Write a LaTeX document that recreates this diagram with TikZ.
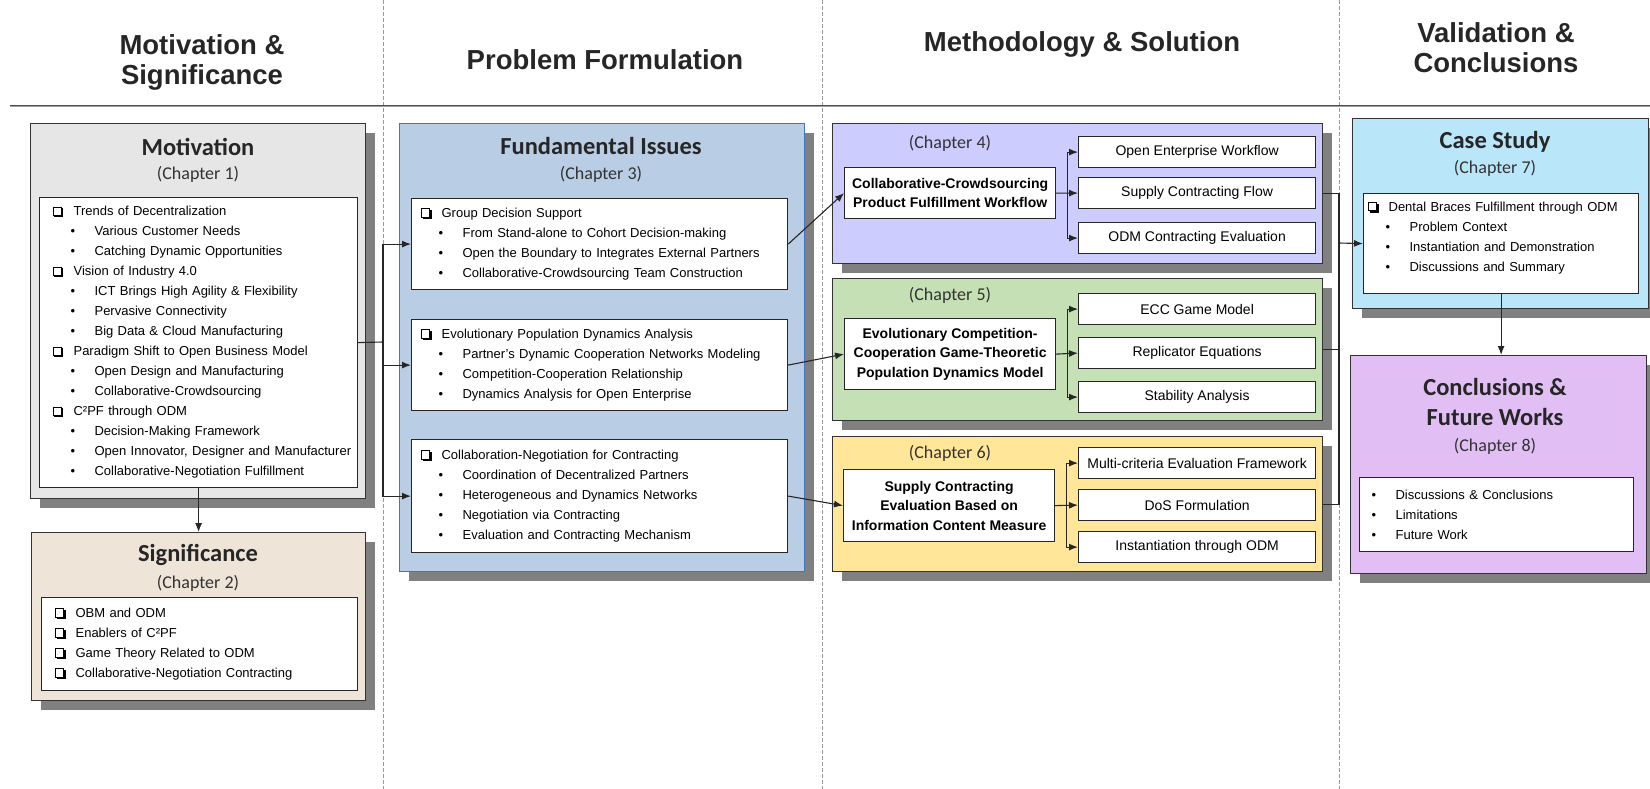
\documentclass[tikz,border=0pt]{standalone}
\usepackage{fontspec}
\setmainfont{Liberation Sans}
\newfontfamily\calfont{Carlito}
\usepackage{tikz}
\usetikzlibrary{arrows.meta}
\usetikzlibrary{shadows}
\usetikzlibrary{calc}

\definecolor{motgray}{RGB}{231,230,230}
\definecolor{sigbeige}{RGB}{238,228,216}
\definecolor{issueblue}{RGB}{185,205,229}
\definecolor{borderblue}{RGB}{68,114,196}
\definecolor{chfourpurple}{RGB}{204,204,255}
\definecolor{chfivegreen}{RGB}{197,224,180}
\definecolor{chsixyellow}{RGB}{255,230,153}
\definecolor{casecyan}{RGB}{186,230,250}
\definecolor{conclilac}{RGB}{225,191,245}
\definecolor{shadowgray}{RGB}{128,128,128}

\newcommand{\chkbox}{\tikz[baseline=-0.5pt]{\draw[line width=0.8pt] (0pt,0pt) rectangle (8.5pt,8.5pt); \draw[line width=2pt] (1.5pt,-1pt) -- (9.5pt,-1pt) -- (9.5pt,7pt);}}
\newcommand{\cb}[1]{\mbox{\makebox[21pt][l]{\chkbox}#1}}
\newcommand{\bt}[2][18pt]{\mbox{\hspace*{#1}\makebox[24pt][l]{\textbullet}#2}}

\begin{document}
\begin{tikzpicture}[x=1pt,y=-1pt,>={Latex[length=9pt,width=7pt]},
    chapter box/.style={rectangle,draw=black!80,line width=1.2pt,anchor=north west,drop shadow={shadow xshift=9pt,shadow yshift=-9pt,fill=shadowgray,opacity=1}},
    head title/.style={font=\bfseries\fontsize{27.5}{30}\selectfont,text=black!85,align=center},
    box title/.style={font=\calfont\bfseries\fontsize{24.5}{30}\selectfont,text=black!85,align=center},
    chap label/.style={font=\calfont\fontsize{18}{22}\selectfont,text=black!80},
    list box/.style={rectangle,draw=black!85,line width=1.2pt,fill=white,anchor=north west,align=left,inner ysep=0pt,font=\fontsize{13}{20}\selectfont},
    method node/.style={rectangle,draw=black!85,line width=1.2pt,fill=white,anchor=north west,align=center,inner xsep=3pt,font=\bfseries\fontsize{14}{19.5}\selectfont,minimum width=211pt},
    sub node/.style={rectangle,draw=black!85,line width=1.2pt,fill=white,anchor=north west,inner xsep=3pt,font=\fontsize{14}{17}\selectfont,minimum width=237pt,minimum height=31pt},
    link/.style={line width=1.1pt,black!85},
    divider/.style={gray!80,line width=0.8pt,dash pattern=on 4pt off 2pt}]
  \useasboundingbox (0,0) rectangle (1650,789);
  \begin{scope}
    % columns and header
    \draw[divider] (383,0) -- (383,789);
    \draw[divider] (822,0) -- (822,789);
    \draw[divider] (1339,0) -- (1339,789);
    \draw[gray!75,line width=2.2pt] (10,106) -- (1650,106);
    \draw[black!70,line width=0.6pt] (10,105) -- (1650,105);
    \node[head title] (headmot) at (202,62) {Motivation \&\\Significance};
    \node[head title] (headprob) at (605,60) {Problem Formulation};
    \node[head title] (headmeth) at (1082,44) {Methodology \& Solution};
    \node[head title] (headval) at (1496,48) {Validation \&\\Conclusions};

    % motivation & significance
    \node[chapter box,fill=motgray,minimum width=335pt,minimum height=375pt] (motiv) at (30,123) {};
    \node[box title] (motivtitle) at (198,147) {Motivation};
    \node[chap label] (motivchap) at (198,174) {(Chapter 1)};
    \node[list box,inner xsep=13pt,text width=292pt,minimum height=290pt] (motlist) at (39,197) {%
      \cb{Trends of Decentralization}\\
      \bt{Various Customer Needs}\\
      \bt{Catching Dynamic Opportunities}\\
      \cb{Vision of Industry 4.0}\\
      \bt{ICT Brings High Agility \& Flexibility}\\
      \bt{Pervasive Connectivity}\\
      \bt{Big Data \& Cloud Manufacturing}\\
      \cb{Paradigm Shift to Open Business Model}\\
      \bt{Open Design and Manufacturing}\\
      \bt{Collaborative-Crowdsourcing}\\
      \cb{C²PF through ODM}\\
      \bt{Decision-Making Framework}\\
      \bt{Open Innovator, Designer and Manufacturer}\\
      \bt{Collaborative-Negotiation Fulfillment}};
    \node[chapter box,fill=sigbeige,minimum width=334pt,minimum height=168pt] (signif) at (31,532) {};
    \node[box title] (signiftitle) at (198,555) {Significance};
    \node[chap label] (signifchap) at (198,583) {(Chapter 2)};
    \node[list box,inner xsep=13pt,text width=290pt,minimum height=93pt] (siglist) at (41,597) {%
      \cb{OBM and ODM}\\
      \cb{Enablers of C²PF}\\
      \cb{Game Theory Related to ODM}\\
      \cb{Collaborative-Negotiation Contracting}};

    % problem formulation
    \node[chapter box,draw=borderblue,fill=issueblue,minimum width=405pt,minimum height=448pt] (issues) at (399,123) {};
    \node[box title] (issuestitle) at (601,146) {Fundamental Issues};
    \node[chap label] (issueschap) at (601,174) {(Chapter 3)};
    \node[list box,inner xsep=9pt,text width=358pt,minimum height=91pt] (issue1) at (411,198) {%
      \cb{Group Decision Support}\\
      \bt{From Stand-alone to Cohort Decision-making}\\
      \bt{Open the Boundary to Integrates External Partners}\\
      \bt{Collaborative-Crowdsourcing Team Construction}};
    \node[list box,inner xsep=9pt,text width=358pt,minimum height=91pt] (issue2) at (411,319) {%
      \cb{Evolutionary Population Dynamics Analysis}\\
      \bt{Partner's Dynamic Cooperation Networks Modeling}\\
      \bt{Competition-Cooperation Relationship}\\
      \bt{Dynamics Analysis for Open Enterprise}};
    \node[list box,inner xsep=9pt,text width=358pt,minimum height=113pt] (issue3) at (411,439) {%
      \cb{Collaboration-Negotiation for Contracting}\\
      \bt{Coordination of Decentralized Partners}\\
      \bt{Heterogeneous and Dynamics Networks}\\
      \bt{Negotiation via Contracting}\\
      \bt{Evaluation and Contracting Mechanism}};

    % methodology & solution
    \node[chapter box,fill=chfourpurple,minimum width=490pt,minimum height=140pt] (ch4box) at (832,123) {};
    \node[chap label] (ch4chap) at (950,143) {(Chapter 4)};
    \node[method node,minimum height=51pt] (ch4main) at (844,167) {Collaborative-Crowdsourcing\\Product Fulfillment Workflow};
    \node[sub node] (ch4a) at (1078,136) {Open Enterprise Workflow};
    \node[sub node] (ch4b) at (1078,177) {Supply Contracting Flow};
    \node[sub node] (ch4c) at (1078,222) {ODM Contracting Evaluation};

    \node[chapter box,fill=chfivegreen,minimum width=490pt,minimum height=142pt] (ch5box) at (832,278) {};
    \node[chap label] (ch5chap) at (950,295) {(Chapter 5)};
    \node[method node,minimum height=71pt] (ch5main) at (844,318) {Evolutionary Competition-\\Cooperation Game-Theoretic\\Population Dynamics Model};
    \node[sub node] (ch5a) at (1078,293) {ECC Game Model};
    \node[sub node] (ch5b) at (1078,337) {Replicator Equations};
    \node[sub node] (ch5c) at (1078,381) {Stability Analysis};

    \node[chapter box,fill=chsixyellow,minimum width=490pt,minimum height=135pt] (ch6box) at (832,436) {};
    \node[chap label] (ch6chap) at (950,453) {(Chapter 6)};
    \node[method node,minimum height=72pt] (ch6main) at (843,469) {Supply Contracting\\Evaluation Based on\\Information Content Measure};
    \node[sub node] (ch6a) at (1078,447) {Multi-criteria Evaluation Framework};
    \node[sub node] (ch6b) at (1078,489) {DoS Formulation};
    \node[sub node] (ch6c) at (1078,531) {Instantiation through ODM};

    % validation & conclusions
    \node[chapter box,fill=casecyan,minimum width=296pt,minimum height=190pt] (casebox) at (1352,118) {};
    \node[box title] (casetitle) at (1495,142) {Case Study};
    \node[chap label] (casechap) at (1495,168) {(Chapter 7)};
    \node[list box,inner xsep=4pt,text width=267pt,minimum height=100pt] (caselist) at (1363,193) {%
      \cb{Dental Braces Fulfillment through ODM}\\
      \bt{Problem Context}\\
      \bt{Instantiation and Demonstration}\\
      \bt{Discussions and Summary}\\[-6pt]\mbox{}};
    \node[chapter box,fill=conclilac,minimum width=296pt,minimum height=218pt] (concl) at (1350,355) {};
    \node[box title] (concltitle) at (1495,402) {Conclusions \&\\Future Works};
    \node[chap label] (conclchap) at (1495,446) {(Chapter 8)};
    \node[list box,inner xsep=12pt,text width=250pt,minimum height=74pt] (concllist) at (1359,477) {%
      \bt[0pt]{Discussions \& Conclusions}\\
      \bt[0pt]{Limitations}\\
      \bt[0pt]{Future Work}};

    % connectors
    \coordinate (mtrunk) at (383,342);
    \draw[link] (motlist.east) -- (mtrunk);
    \draw[link,->] (mtrunk) |- (issue1.west);
    \draw[link,->] (mtrunk) |- (issue2.west);
    \draw[link,->] (mtrunk) |- (issue3.west);
    \path[link,->] (motlist.south) edge (signif.north);
    \path[link,->] (issue1.east) edge (ch4main.west);
    \path[link,->] (issue2.east) edge (ch5main.west);
    \path[link,->] (issue3.east) edge (ch6main.west);

    \coordinate (ch4fork) at ($(ch4main.east)!0.5!(ch4b.west)$);
    \draw[link] (ch4main.east) -- (ch4fork);
    \draw[link,->] (ch4fork) |- (ch4a.west);
    \draw[link,->] (ch4fork) -- (ch4b.west);
    \draw[link,->] (ch4fork) |- (ch4c.west);
    \coordinate (ch5fork) at ($(ch5main.east)!0.5!(ch5b.west)$);
    \draw[link] (ch5main.east) -- (ch5fork);
    \draw[link,->] (ch5fork) |- (ch5a.west);
    \draw[link,->] (ch5fork) -- (ch5b.west);
    \draw[link,->] (ch5fork) |- (ch5c.west);
    \coordinate (ch6fork) at ($(ch6main.east)!0.5!(ch6b.west)$);
    \draw[link] (ch6main.east) -- (ch6fork);
    \draw[link,->] (ch6fork) |- (ch6a.west);
    \draw[link,->] (ch6fork) -- (ch6b.west);
    \draw[link,->] (ch6fork) |- (ch6c.west);

    \coordinate (rtrunk) at (1339,243);
    \draw[link] (ch4box.east) -| (rtrunk);
    \draw[link] (ch6box.east) -| (rtrunk);
    \draw[link] (ch5box.east) -- (ch5box.east -| rtrunk);
    \draw[link,->] (rtrunk) -- (caselist.west);
    \draw[link,->] (caselist.south) -- (caselist.south |- concl.north);
  \end{scope}
\end{tikzpicture}
\end{document}
